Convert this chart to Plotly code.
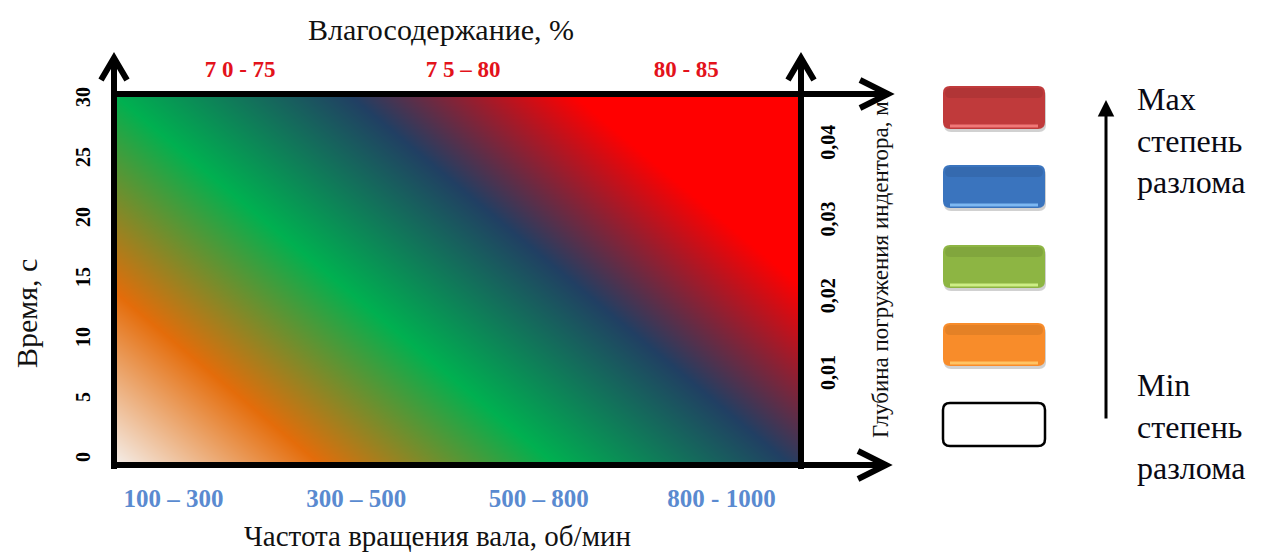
import plotly.graph_objects as go

# ---------------- data ----------------
speed_labels = ["100 – 300", "300 – 500", "500 – 800", "800 - 1000"]
speed_pos = [0, 1, 2, 3]
speed_range = [-0.31, 3.43]

moisture_labels = ["7 0 - 75", "7 5 – 80", "80 - 85"]
moisture_pos = [72.5, 77.5, 82.5]
moisture_range = [69.74, 85.05]

time_ticks = [0, 5, 10, 15, 20, 25, 30]
time_range = [-0.25, 30.25]

depth_ticks = [0.01, 0.02, 0.03, 0.04]
depth_labels = ["0,01", "0,02", "0,03", "0,04"]
depth_range = [-0.0014, 0.0463]

# fracture degree at the corners of the field (bottom row, top row)
grad_z = [[0.0, 0.61],
          [0.39, 1.0]]
grad_colorscale = [[0.00, "#F4ECE6"],
                   [0.18, "#E46C0A"],
                   [0.39, "#00B050"],
                   [0.60, "#213F63"],
                   [0.80, "#FF0000"],
                   [1.00, "#FF0000"]]

legend_fill = ["#C03A3B", "#3A74BE", "#8DB543", "#F88C2A", "#FFFFFF"]
legend_light = ["#F07878", "#7DB8F2", "#CDEE86", "#FFC465", "#FFFFFF"]
legend_text_max = "Max<br>степень<br>разлома"
legend_text_min = "Min<br>степень<br>разлома"

# ---------------- layout geometry (pixels of the page) ----------------
PAGE_OFF = 8                      # default body margin of the html page
W_FIG, H_FIG = 1267 - PAGE_OFF, 556 - PAGE_OFF
L, R, T, B = 117, 800, 97, 463    # plot area in page pixels
PW, PH = R - L, B - T


def fx(px):
    return (px - L) / PW


def fy(py):
    return (B - py) / PH


SERIF = "Liberation Serif, Times New Roman, serif"

fig = go.Figure()
fig.add_trace(go.Heatmap(
    x=speed_range, y=time_range, z=grad_z,
    colorscale=grad_colorscale, zmin=0, zmax=1,
    zsmooth="best", showscale=False, hoverinfo="skip",
))
fig.add_trace(go.Scatter(x=[None], y=[None], xaxis="x2", yaxis="y2",
                         showlegend=False, hoverinfo="skip"))

shapes = []


def line(p, width=6):
    path = "M " + " L ".join(f"{fx(x):.5f},{fy(y):.5f}" for x, y in p)
    shapes.append(dict(type="path", path=path, xref="paper", yref="paper",
                       line=dict(color="black", width=width)))


# axes frame with arrows
line([(114, 469), (114, 59)])
line([(101, 80), (114, 58), (127, 80)])
line([(801, 469), (801, 59)])
line([(788, 80), (801, 58), (814, 80)])
line([(111, 94), (887, 94)])
line([(860, 80), (888, 94), (860, 108)])
line([(111, 465), (885, 465)])
line([(858, 451), (886, 465), (858, 479)])


def rrect(x0, y0, x1, y1, r):
    pts = [("M", x0 + r, y0), ("L", x1 - r, y0), ("Q", x1, y0, x1, y0 + r),
           ("L", x1, y1 - r), ("Q", x1, y1, x1 - r, y1), ("L", x0 + r, y1),
           ("Q", x0, y1, x0, y1 - r), ("L", x0, y0 + r), ("Q", x0, y0, x0 + r, y0)]
    s = []
    for p in pts:
        cmd = p[0]
        coords = p[1:]
        c = " ".join(f"{fx(coords[i]):.5f},{fy(coords[i+1]):.5f}" for i in range(0, len(coords), 2))
        s.append(f"{cmd} {c}")
    return " ".join(s) + " Z"


box_tops = [86, 165, 245, 323, 403]
for i, (top, fill, light) in enumerate(zip(box_tops, legend_fill, legend_light)):
    x0, x1, y0, y1 = 943, 1045, top, top + 43
    if i < 4:
        shapes.append(dict(type="path", path=rrect(x0 + 1, y0 + 3, x1 + 1, y1 + 3, 7),
                           xref="paper", yref="paper", fillcolor="rgba(0,0,0,0.18)",
                           line=dict(width=0)))
        shapes.append(dict(type="path", path=rrect(x0, y0, x1, y1, 7),
                           xref="paper", yref="paper", fillcolor=fill,
                           line=dict(width=0)))
        shapes.append(dict(type="path", path=rrect(x0 + 2, y0 + 2, x1 - 2, y0 + 12, 5),
                           xref="paper", yref="paper", fillcolor="rgba(0,0,0,0.08)",
                           line=dict(width=0)))
        shapes.append(dict(type="line", x0=fx(x0 + 7), x1=fx(x1 - 7),
                           y0=fy(y1 - 3), y1=fy(y1 - 3), xref="paper", yref="paper",
                           line=dict(color=light, width=3)))
    else:
        shapes.append(dict(type="path", path=rrect(x0, y0, x1, y1, 7),
                           xref="paper", yref="paper", fillcolor=fill,
                           line=dict(color="black", width=2.5)))


def note(text, x, y, size, angle=0, xanchor="center", align="center", color="#111"):
    return dict(text=text, x=fx(x), y=fy(y), xref="paper", yref="paper",
                xanchor=xanchor, yanchor="middle", align=align, textangle=angle,
                showarrow=False, font=dict(family=SERIF, size=size, color=color))


annotations = [
    note("Влагосодержание, %", 441, 30, 30),
    note("Частота вращения вала, об/мин", 437, 536, 29),
    note("Время, с", 26, 314, 30, angle=-90),
    note("Глубина погружения индентора, м", 880, 270, 23, angle=-90),
    note(legend_text_max, 1135, 140, 32, xanchor="left", align="left", color="#0a0a14"),
    note(legend_text_min, 1135, 426, 32, xanchor="left", align="left", color="#0a0a14"),
    dict(text="", x=fx(1106), y=fy(100), ax=0, ay=320, xref="paper",
         yref="paper", axref="pixel", ayref="pixel", showarrow=True,
         arrowhead=2, arrowsize=1.1, arrowwidth=3, arrowcolor="black"),
]

fig.update_layout(
    width=W_FIG, height=H_FIG,
    margin=dict(l=L - PAGE_OFF, r=W_FIG - (R - PAGE_OFF), t=T - PAGE_OFF,
                b=H_FIG - (B - PAGE_OFF), pad=0),
    paper_bgcolor="white", plot_bgcolor="white",
    showlegend=False,
    xaxis=dict(range=speed_range, tickvals=speed_pos, ticktext=speed_labels,
               showgrid=False, zeroline=False, showline=False, ticks="",
               ticklabelstandoff=18,
               tickfont=dict(family=SERIF, size=25, color="#5A8AD0", weight="bold")),
    xaxis2=dict(range=moisture_range, tickvals=moisture_pos, ticktext=moisture_labels,
                overlaying="x", side="top", showgrid=False, zeroline=False,
                showline=False, ticks="", ticklabelstandoff=14,
                tickfont=dict(family=SERIF, size=23, color="#E3121B", weight="bold")),
    yaxis=dict(range=time_range, tickvals=time_ticks, showgrid=False, zeroline=False,
               showline=False, ticks="", tickangle=-90, ticklabelstandoff=22,
               tickfont=dict(family=SERIF, size=20, color="black", weight="bold")),
    yaxis2=dict(range=depth_range, tickvals=depth_ticks, ticktext=depth_labels,
                overlaying="y", side="right", showgrid=False, zeroline=False,
                showline=False, ticks="", tickangle=-90, ticklabelstandoff=14,
                tickfont=dict(family=SERIF, size=20, color="black", weight="bold")),
    shapes=shapes,
    annotations=annotations,
)

fig.write_html("out.html")
